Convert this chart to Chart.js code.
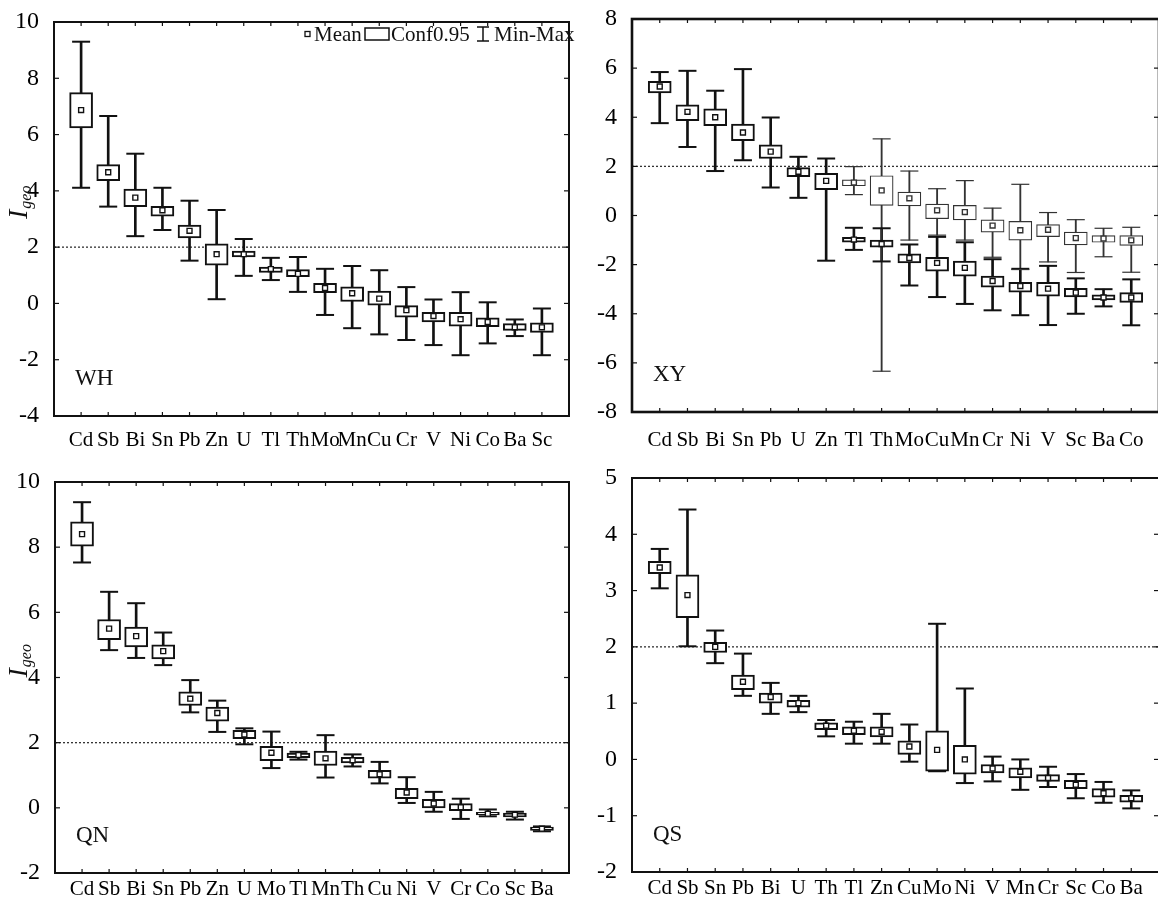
<!DOCTYPE html>
<html><head><meta charset="utf-8">
<script src="https://cdn.jsdelivr.net/npm/chart.js@4/dist/chart.umd.min.js"></script>
<style>
html,body{margin:0;padding:0;background:#fff;overflow:hidden;width:1158px;height:899px;position:relative;}
canvas{position:absolute;}
</style></head><body>
<canvas id="wh" width="580" height="455" style="left:0;top:0;width:580px;height:455px"></canvas>
<canvas id="xy" width="590" height="455" style="left:580px;top:0;width:590px;height:455px"></canvas>
<canvas id="qn" width="580" height="459" style="left:0;top:440px;width:580px;height:459px"></canvas>
<canvas id="qs" width="590" height="459" style="left:580px;top:440px;width:590px;height:459px"></canvas>
<script>
// ---------- WH ----------
const whCats = ['Cd','Sb','Bi','Sn','Pb','Zn','U','Tl','Th','Mo','Mn','Cu','Cr','V','Ni','Co','Ba','Sc'];
const whMin  = [4.11,3.44,2.39,2.61,1.52,0.15,0.98,0.83,0.41,-0.41,-0.88,-1.10,-1.30,-1.48,-1.84,-1.42,-1.16,-1.84];
const whLow  = [6.24,4.36,3.44,3.10,2.33,1.36,1.65,1.10,0.95,0.38,0.07,-0.06,-0.49,-0.66,-0.81,-0.83,-0.96,-1.03];
const whMean = [6.87,4.66,3.76,3.31,2.58,1.75,1.75,1.22,1.05,0.55,0.36,0.17,-0.24,-0.45,-0.56,-0.66,-0.85,-0.85];
const whHigh = [7.49,4.93,4.06,3.45,2.78,2.12,1.86,1.29,1.20,0.71,0.59,0.44,-0.08,-0.32,-0.32,-0.51,-0.72,-0.69];
const whMax  = [9.30,6.66,5.32,4.11,3.65,3.32,2.29,1.62,1.65,1.23,1.33,1.18,0.58,0.14,0.40,0.04,-0.57,-0.18];
const whTicks = [-4, 10, 2];

// ---------- XY (two groups: A thick, B thin) ----------
const xyCats  = ['Cd','Sb','Bi','Sn','Pb','U','Zn','Tl','Th','Mo','Cu','Mn','Cr','Ni','V','Sc','Ba','Co'];
const xyAMin  = [3.76,2.79,1.81,2.25,1.14,0.72,-1.84,-1.40,-1.87,-2.85,-3.32,-3.60,-3.86,-4.06,-4.46,-4.00,-3.70,-4.47];
const xyALow  = [4.99,3.86,3.66,3.05,2.32,1.58,1.05,-1.09,-1.29,-1.93,-2.27,-2.47,-2.92,-3.12,-3.28,-3.31,-3.44,-3.54];
const xyAMean = [5.25,4.22,4.00,3.38,2.60,1.78,1.41,-0.98,-1.16,-1.73,-1.93,-2.13,-2.67,-2.87,-2.98,-3.14,-3.34,-3.34];
const xyAHigh = [5.46,4.51,4.34,3.72,2.88,1.95,1.72,-0.89,-1.00,-1.56,-1.70,-1.86,-2.47,-2.72,-2.72,-2.96,-3.23,-3.14];
const xyAMax  = [5.84,5.89,5.08,5.96,3.99,2.39,2.32,-0.50,-0.52,-1.18,-0.87,-1.09,-1.78,-2.17,-2.05,-2.56,-3.00,-2.60];
const xyBMin  = [null,null,null,null,null,null,null,0.85,-6.34,-1.00,-0.80,-1.00,-1.70,-2.20,-1.89,-2.32,-1.68,-2.31];
const xyBLow  = [null,null,null,null,null,null,null,1.21,0.41,0.39,-0.13,-0.18,-0.68,-1.00,-0.86,-1.20,-1.09,-1.22];
const xyBMean = [null,null,null,null,null,null,null,1.34,1.02,0.70,0.21,0.14,-0.41,-0.60,-0.58,-0.92,-0.94,-1.01];
const xyBHigh = [null,null,null,null,null,null,null,1.45,1.62,0.95,0.46,0.41,-0.18,-0.24,-0.37,-0.68,-0.82,-0.82];
const xyBMax  = [null,null,null,null,null,null,null,1.99,3.12,1.81,1.09,1.42,0.30,1.27,0.12,-0.17,-0.52,-0.48];
const xyTicks = [-8, 8, 2];

// ---------- QN ----------
const qnCats = ['Cd','Sb','Bi','Sn','Pb','Zn','U','Mo','Tl','Mn','Th','Cu','Ni','V','Cr','Co','Sc','Ba'];
const qnMin  = [7.53,4.84,4.60,4.38,2.93,2.33,1.95,1.22,1.48,0.93,1.27,0.75,0.15,-0.12,-0.34,-0.26,-0.36,-0.72];
const qnLow  = [8.03,5.16,4.94,4.57,3.14,2.66,2.12,1.45,1.54,1.30,1.38,0.91,0.28,0.00,-0.09,-0.22,-0.28,-0.69];
const qnMean = [8.40,5.50,5.27,4.81,3.35,2.91,2.25,1.69,1.62,1.52,1.46,1.03,0.47,0.13,0.02,-0.18,-0.21,-0.64];
const qnHigh = [8.78,5.78,5.55,5.00,3.56,3.09,2.38,1.89,1.68,1.74,1.55,1.15,0.60,0.26,0.13,-0.14,-0.16,-0.59];
const qnMax  = [9.38,6.63,6.28,5.38,3.92,3.29,2.44,2.34,1.72,2.23,1.64,1.41,0.94,0.49,0.28,-0.05,-0.12,-0.57];
const qnTicks = [-2, 10, 2];

// ---------- QS ----------
const qsCats = ['Cd','Sb','Sn','Pb','Bi','U','Th','Tl','Zn','Cu','Mo','Ni','V','Mn','Cr','Sc','Co','Ba'];
const qsMin  = [3.04,2.01,1.71,1.13,0.81,0.84,0.41,0.28,0.28,-0.04,-0.21,-0.42,-0.39,-0.54,-0.49,-0.69,-0.77,-0.87];
const qsLow  = [3.30,2.52,1.90,1.24,1.00,0.93,0.53,0.44,0.40,0.09,-0.21,-0.26,-0.24,-0.33,-0.39,-0.52,-0.67,-0.76];
const qsMean = [3.41,2.92,2.00,1.38,1.11,1.00,0.60,0.51,0.49,0.23,0.17,0.00,-0.16,-0.22,-0.33,-0.45,-0.60,-0.69];
const qsHigh = [3.52,3.28,2.08,1.50,1.18,1.05,0.65,0.58,0.58,0.33,0.51,0.25,-0.09,-0.15,-0.27,-0.37,-0.52,-0.64];
const qsMax  = [3.74,4.44,2.29,1.88,1.36,1.13,0.70,0.67,0.81,0.62,2.41,1.26,0.05,0.00,-0.13,-0.26,-0.40,-0.55];
const qsTicks = [-2, 5, 1];

const refLevel = 2;

Chart.defaults.font.family = '"Liberation Serif", "Times New Roman", serif';
Chart.defaults.color = '#000';

function seriesSets(s, st) {
  const whisk = [], box = [], caps = [], means = [];
  for (let i = 0; i < s.mean.length; i++) {
    if (s.mean[i] == null) continue;
    const x = i + 1;
    whisk.push({x, y: [s.min[i], s.max[i]]});
    box.push({x, y: [s.low[i], s.high[i]]});
    caps.push({x, y: s.min[i]}, {x, y: s.max[i]});
    means.push({x, y: s.mean[i]});
  }
  return [
    {type:'bar', data: whisk, backgroundColor: st.color, borderWidth: 0, barThickness: st.lw, grouped: false, order: 5},
    {type:'bar', data: box, backgroundColor: '#fff', borderColor: st.color, borderWidth: st.lw, borderSkipped: false, barThickness: 23, grouped: false, order: 4},
    {type:'scatter', data: caps, pointStyle: 'line', pointRadius: 9, borderColor: st.color, backgroundColor: st.color, borderWidth: st.lw, order: 3},
    {type:'scatter', data: means, pointStyle: 'rect', pointRadius: 3.5, backgroundColor: '#fff', borderColor: st.color, borderWidth: 1.4, order: 2}
  ];
}

const framePlugin = {
  id: 'frame',
  afterDraw(chart, args, o) {
    const {ctx, chartArea: a} = chart;
    const x = chart.scales.x, y = chart.scales.y;
    ctx.save();
    ctx.strokeStyle = '#111';
    ctx.lineWidth = 1.2;
    const seg = (x1, y1, x2, y2) => { ctx.beginPath(); ctx.moveTo(x1, y1); ctx.lineTo(x2, y2); ctx.stroke(); };
    x.ticks.forEach(t => { const p = x.getPixelForValue(t.value); seg(p, a.bottom, p, a.bottom - 4); seg(p, a.top, p, a.top + 4); });
    y.ticks.forEach(t => { const p = y.getPixelForValue(t.value); seg(a.left, p, a.left + 5, p); seg(a.right, p, a.right - 5, p); });
    ctx.lineWidth = o.fw || 2;
    ctx.strokeRect(a.left, a.top, a.right - a.left, a.bottom - a.top);
    ctx.fillStyle = '#111';
    ctx.textBaseline = 'alphabetic';
    ctx.textAlign = 'left';
    ctx.font = '23px "Liberation Serif"';
    ctx.fillText(o.name, a.left + 21, a.bottom - 31);
    if (o.ylabel) {
      const mid = (a.top + a.bottom) / 2;
      ctx.save();
      ctx.translate(27, mid);
      ctx.rotate(-Math.PI / 2);
      ctx.font = 'italic 28px "Liberation Serif"';
      ctx.fillText('I', 0, 0);
      const w = ctx.measureText('I').width;
      ctx.font = 'italic 16px "Liberation Serif"';
      ctx.fillText('geo', w + 1, 4);
      ctx.restore();
    }
    if (o.legend) {
      const cy = a.top + 12;
      ctx.lineWidth = 1.3;
      ctx.strokeRect(305, cy - 2.5, 5, 5);
      ctx.font = '21px "Liberation Serif"';
      ctx.textBaseline = 'middle';
      ctx.fillText('Mean', 314, cy + 1);
      ctx.lineWidth = 1.5;
      ctx.strokeRect(365, cy - 6, 24, 12);
      ctx.fillText('Conf0.95', 391, cy + 1);
      seg(477, cy - 7, 489, cy - 7);
      seg(483, cy - 7, 483, cy + 7);
      seg(477, cy + 7, 489, cy + 7);
      ctx.fillText('Min-Max', 494, cy + 1);
    }
    ctx.restore();
  }
};

function makePanel(id, cats, seriesList, ticks, g, extra) {
  const canvas = document.getElementById(id);
  let datasets = [{
    type: 'line', data: [{x: 0, y: refLevel}, {x: 19, y: refLevel}],
    borderColor: '#333', borderWidth: 1.3, borderDash: [2, 2], pointRadius: 0, order: 10
  }];
  seriesList.forEach(s => { datasets = datasets.concat(seriesSets(s, s.style)); });
  return new Chart(canvas, {
    type: 'bar',
    data: { datasets },
    plugins: [framePlugin],
    options: {
      responsive: false, animation: false, events: [],
      layout: { padding: { top: g.top, right: g.right, left: 0, bottom: 0 } },
      plugins: { legend: { display: false }, tooltip: { enabled: false },
        frame: Object.assign({ name: extra.name }, extra) },
      scales: {
        x: {
          type: 'linear', min: 0, max: 19, offset: false,
          grid: { display: false }, border: { display: false },
          afterBuildTicks: sc => { sc.ticks = cats.map((c, i) => ({ value: i + 1 })); },
          afterFit: sc => { sc.height = g.xh; },
          ticks: { autoSkip: false, maxRotation: 0, minRotation: 0, padding: g.xpad, color: '#000',
            font: { size: 21, lineHeight: 1 }, callback: v => cats[Math.round(v) - 1] || '' }
        },
        y: {
          type: 'linear', min: ticks[0], max: ticks[1],
          grid: { display: false }, border: { display: false },
          afterFit: sc => { sc.width = g.yw; },
          ticks: { stepSize: ticks[2], padding: 7, color: '#000',
            font: { size: 24, lineHeight: 1 }, callback: v => String(v) }
        }
      }
    }
  });
}

const thick = { color: '#111', lw: 2 };
const thin = { color: '#333', lw: 1.2 };

makePanel('wh', whCats,
  [{min: whMin, low: whLow, mean: whMean, high: whHigh, max: whMax, style: thick}],
  whTicks, { top: 22, right: 2, xh: 39, yw: 54, xpad: 6 }, { name: 'WH', ylabel: true, legend: true, fw: 2 });

makePanel('xy', xyCats,
  [{min: xyBMin, low: xyBLow, mean: xyBMean, high: xyBHigh, max: xyBMax, style: thin},
   {min: xyAMin, low: xyALow, mean: xyAMean, high: xyAHigh, max: xyAMax, style: thick}],
  xyTicks, { top: 13, right: 10, xh: 43, yw: 52, xpad: 10 }, { name: 'XY', fw: 2.6 });

makePanel('qn', qnCats,
  [{min: qnMin, low: qnLow, mean: qnMean, high: qnHigh, max: qnMax, style: thick}],
  qnTicks, { top: 42, right: 1, xh: 26, yw: 55, xpad: -2 }, { name: 'QN', ylabel: true, fw: 2 });

makePanel('qs', qsCats,
  [{min: qsMin, low: qsLow, mean: qsMean, high: qsHigh, max: qsMax, style: thick}],
  qsTicks, { top: 38, right: 10, xh: 27, yw: 52, xpad: -2 }, { name: 'QS', fw: 2 });
</script>
</body></html>
